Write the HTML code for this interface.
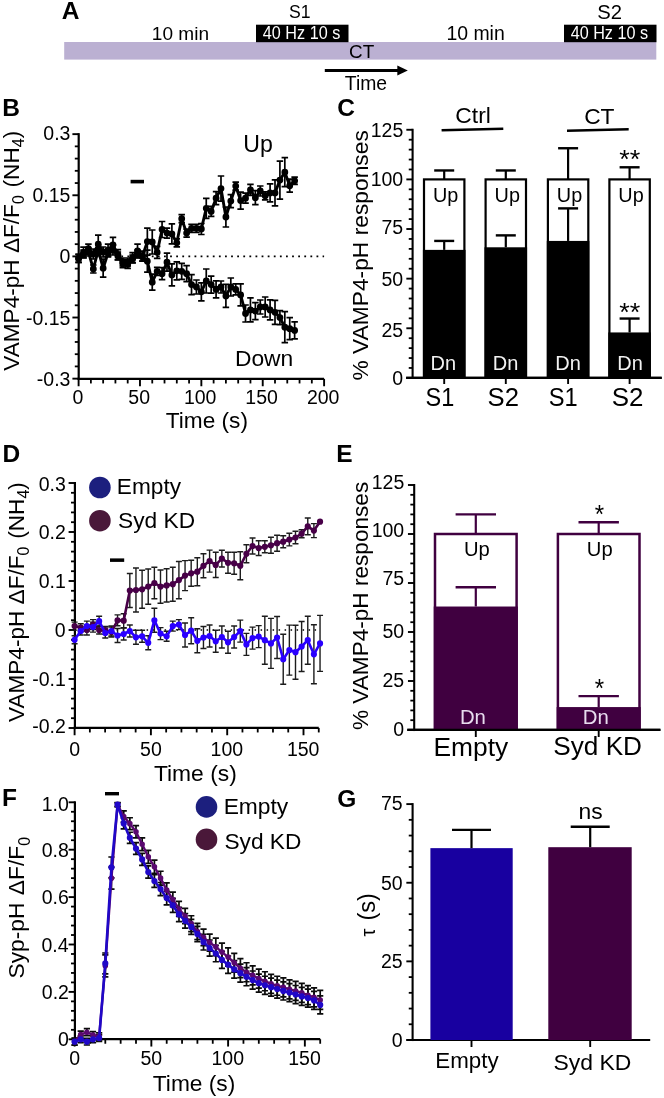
<!DOCTYPE html>
<html><head><meta charset="utf-8"><style>
html,body{margin:0;padding:0;background:#fff;}
svg{display:block;font-family:"Liberation Sans", sans-serif;will-change:transform;}
</style></head><body>
<svg width="664" height="1098" viewBox="0 0 664 1098">
<rect width="664" height="1098" fill="#fff"/>
<text x="61.69" y="19.4" font-size="24.5" font-weight="bold" fill="#000" >A</text>
<rect x="64.2" y="42" width="592.1" height="17.6" fill="#bbb0d2" />
<text x="151.85" y="40" font-size="19.06" fill="#000" >10 min</text>
<text x="446.42" y="40.3" font-size="19.44" fill="#000" >10 min</text>
<text x="289.09" y="18.4" font-size="17.64" fill="#000" >S1</text>
<text x="597.37" y="19" font-size="20.23" fill="#000" >S2</text>
<rect x="256" y="24.7" width="92.5" height="17.5" fill="#000" />
<text x="262.83" y="39.3" font-size="18.6" fill="#fff" textLength="77.46" lengthAdjust="spacingAndGlyphs">40 Hz 10 s</text>
<rect x="564" y="24.7" width="92.5" height="17.5" fill="#000" />
<text x="570.63" y="39.3" font-size="18.6" fill="#fff" textLength="77.46" lengthAdjust="spacingAndGlyphs">40 Hz 10 s</text>
<text x="349.04" y="58.3" font-size="18.9" fill="#000" >CT</text>
<line x1="324.8" y1="70.6" x2="399" y2="70.6" stroke="#000" stroke-width="3" />
<polygon points="397.3,65.6 407.8,70.6 397.3,75.6" fill="#000"/>
<text x="344.87" y="90.1" font-size="19.35" fill="#000" >Time</text>
<text x="2.36" y="116.4" font-size="24.5" font-weight="bold" fill="#000" >B</text>
<line x1="78.7" y1="133.15" x2="78.7" y2="379.75" stroke="#000" stroke-width="2.2" />
<line x1="72.4" y1="134.15" x2="78.7" y2="134.15" stroke="#000" stroke-width="1.9" />
<line x1="72.4" y1="195.27" x2="78.7" y2="195.27" stroke="#000" stroke-width="1.9" />
<line x1="72.4" y1="256.4" x2="78.7" y2="256.4" stroke="#000" stroke-width="1.9" />
<line x1="72.4" y1="317.52" x2="78.7" y2="317.52" stroke="#000" stroke-width="1.9" />
<line x1="72.4" y1="378.65" x2="78.7" y2="378.65" stroke="#000" stroke-width="1.9" />
<line x1="74.8" y1="146.37" x2="78.7" y2="146.37" stroke="#000" stroke-width="1.8" />
<line x1="74.8" y1="158.6" x2="78.7" y2="158.6" stroke="#000" stroke-width="1.8" />
<line x1="74.8" y1="170.82" x2="78.7" y2="170.82" stroke="#000" stroke-width="1.8" />
<line x1="74.8" y1="183.05" x2="78.7" y2="183.05" stroke="#000" stroke-width="1.8" />
<line x1="74.8" y1="207.5" x2="78.7" y2="207.5" stroke="#000" stroke-width="1.8" />
<line x1="74.8" y1="219.72" x2="78.7" y2="219.72" stroke="#000" stroke-width="1.8" />
<line x1="74.8" y1="231.95" x2="78.7" y2="231.95" stroke="#000" stroke-width="1.8" />
<line x1="74.8" y1="244.17" x2="78.7" y2="244.17" stroke="#000" stroke-width="1.8" />
<line x1="74.8" y1="268.62" x2="78.7" y2="268.62" stroke="#000" stroke-width="1.8" />
<line x1="74.8" y1="280.85" x2="78.7" y2="280.85" stroke="#000" stroke-width="1.8" />
<line x1="74.8" y1="293.07" x2="78.7" y2="293.07" stroke="#000" stroke-width="1.8" />
<line x1="74.8" y1="305.3" x2="78.7" y2="305.3" stroke="#000" stroke-width="1.8" />
<line x1="74.8" y1="329.75" x2="78.7" y2="329.75" stroke="#000" stroke-width="1.8" />
<line x1="74.8" y1="341.97" x2="78.7" y2="341.97" stroke="#000" stroke-width="1.8" />
<line x1="74.8" y1="354.2" x2="78.7" y2="354.2" stroke="#000" stroke-width="1.8" />
<line x1="74.8" y1="366.42" x2="78.7" y2="366.42" stroke="#000" stroke-width="1.8" />
<line x1="77.55" y1="378.9" x2="324.1" y2="378.9" stroke="#000" stroke-width="2.3" />
<line x1="78.6" y1="378.9" x2="78.6" y2="386.25" stroke="#000" stroke-width="1.9" />
<line x1="139.97" y1="378.9" x2="139.97" y2="386.25" stroke="#000" stroke-width="1.9" />
<line x1="201.35" y1="378.9" x2="201.35" y2="386.25" stroke="#000" stroke-width="1.9" />
<line x1="262.73" y1="378.9" x2="262.73" y2="386.25" stroke="#000" stroke-width="1.9" />
<line x1="324.1" y1="378.9" x2="324.1" y2="386.25" stroke="#000" stroke-width="1.9" />
<line x1="90.88" y1="378.9" x2="90.88" y2="383.45" stroke="#000" stroke-width="1.8" />
<line x1="103.15" y1="378.9" x2="103.15" y2="383.45" stroke="#000" stroke-width="1.8" />
<line x1="115.42" y1="378.9" x2="115.42" y2="383.45" stroke="#000" stroke-width="1.8" />
<line x1="127.7" y1="378.9" x2="127.7" y2="383.45" stroke="#000" stroke-width="1.8" />
<line x1="152.25" y1="378.9" x2="152.25" y2="383.45" stroke="#000" stroke-width="1.8" />
<line x1="164.52" y1="378.9" x2="164.52" y2="383.45" stroke="#000" stroke-width="1.8" />
<line x1="176.8" y1="378.9" x2="176.8" y2="383.45" stroke="#000" stroke-width="1.8" />
<line x1="189.07" y1="378.9" x2="189.07" y2="383.45" stroke="#000" stroke-width="1.8" />
<line x1="213.62" y1="378.9" x2="213.62" y2="383.45" stroke="#000" stroke-width="1.8" />
<line x1="225.9" y1="378.9" x2="225.9" y2="383.45" stroke="#000" stroke-width="1.8" />
<line x1="238.18" y1="378.9" x2="238.18" y2="383.45" stroke="#000" stroke-width="1.8" />
<line x1="250.45" y1="378.9" x2="250.45" y2="383.45" stroke="#000" stroke-width="1.8" />
<line x1="275" y1="378.9" x2="275" y2="383.45" stroke="#000" stroke-width="1.8" />
<line x1="287.27" y1="378.9" x2="287.27" y2="383.45" stroke="#000" stroke-width="1.8" />
<line x1="299.55" y1="378.9" x2="299.55" y2="383.45" stroke="#000" stroke-width="1.8" />
<line x1="311.82" y1="378.9" x2="311.82" y2="383.45" stroke="#000" stroke-width="1.8" />
<text x="43.35" y="139.65" font-size="19.5" fill="#000" >0.3</text>
<text x="32.47" y="202.27" font-size="19.5" fill="#000" >0.15</text>
<text x="59.52" y="263.4" font-size="19.5" fill="#000" >0</text>
<text x="25.98" y="324.52" font-size="19.5" fill="#000" >-0.15</text>
<text x="36.86" y="385.65" font-size="19.5" fill="#000" >-0.3</text>
<text x="72.38" y="403.6" font-size="19.5" fill="#000" >0</text>
<text x="128.32" y="403.6" font-size="19.5" fill="#000" >50</text>
<text x="183.93" y="403.6" font-size="19.5" fill="#000" >100</text>
<text x="245.3" y="403.6" font-size="19.5" fill="#000" >150</text>
<text x="306.93" y="403.6" font-size="19.5" fill="#000" >200</text>
<text x="165.8" y="427.9" font-size="22.65" fill="#000" >Time (s)</text>
<text transform="translate(19,370.7) rotate(-90)" font-size="22.6" fill="#000">VAMP4-pH ΔF/F<tspan font-size="16" dy="5.3">0</tspan><tspan dy="-5.3" dx="1.5"> (NH</tspan><tspan font-size="16" dy="5.3">4</tspan><tspan dy="-5.3">)</tspan></text>
<line x1="78.6" y1="256.4" x2="324.1" y2="256.4" stroke="#000" stroke-width="1.8" stroke-dasharray="1.8,4.3"/>
<rect x="130.6" y="179.8" width="13.4" height="3.6" fill="#000" />
<path d="M78.6 254.4V262.4M75.35 254.4h6.5M75.35 262.4h6.5M83.51 247.1V257.7M80.26 247.1h6.5M80.26 257.7h6.5M88.42 244.1V253.1M85.17 244.1h6.5M85.17 253.1h6.5M93.33 249V259M90.08 249h6.5M90.08 259h6.5M98.24 235.1V253.1M94.99 235.1h6.5M94.99 253.1h6.5M103.15 247V257M99.9 247h6.5M99.9 257h6.5M108.06 244.1V256.1M104.81 244.1h6.5M104.81 256.1h6.5M112.97 237.3V252.3M109.72 237.3h6.5M109.72 252.3h6.5M117.88 249.6V259.6M114.63 249.6h6.5M114.63 259.6h6.5M122.79 258V266M119.54 258h6.5M119.54 266h6.5M127.7 258V266M124.45 258h6.5M124.45 266h6.5M132.61 252.7V262.7M129.36 252.7h6.5M129.36 262.7h6.5M137.52 244.1V257.7M134.27 244.1h6.5M134.27 257.7h6.5M142.43 251.1V261.1M139.18 251.1h6.5M139.18 261.1h6.5M147.34 228.1V255.1M144.09 228.1h6.5M144.09 255.1h6.5M152.25 230V254M149 230h6.5M149 254h6.5M157.16 246.4V258.4M153.91 246.4h6.5M153.91 258.4h6.5M162.07 221.5V237.5M158.82 221.5h6.5M158.82 237.5h6.5M166.98 228.1V238.1M163.73 228.1h6.5M163.73 238.1h6.5M171.89 223.9V243.9M168.64 223.9h6.5M168.64 243.9h6.5M176.8 238.8V246.8M173.55 238.8h6.5M173.55 246.8h6.5M181.71 214.7V222.7M178.46 214.7h6.5M178.46 222.7h6.5M186.62 229.1V237.1M183.37 229.1h6.5M183.37 237.1h6.5M191.53 224.3V232.3M188.28 224.3h6.5M188.28 232.3h6.5M196.44 224.3V232.3M193.19 224.3h6.5M193.19 232.3h6.5M201.35 223.5V234.5M198.1 223.5h6.5M198.1 234.5h6.5M206.26 198.3V218.3M203.01 198.3h6.5M203.01 218.3h6.5M211.17 206.4V216.4M207.92 206.4h6.5M207.92 216.4h6.5M216.08 191.7V204.7M212.83 191.7h6.5M212.83 204.7h6.5M220.99 176V201.2M217.74 176h6.5M217.74 201.2h6.5M225.9 207V227M222.65 207h6.5M222.65 227h6.5M230.81 194.6V207.6M227.56 194.6h6.5M227.56 207.6h6.5M235.72 182.1V190.1M232.47 182.1h6.5M232.47 190.1h6.5M240.63 192.1V209.1M237.38 192.1h6.5M237.38 209.1h6.5M245.54 193.2V203.2M242.29 193.2h6.5M242.29 203.2h6.5M250.45 184.3V195.3M247.2 184.3h6.5M247.2 195.3h6.5M255.36 190.7V204.7M252.11 190.7h6.5M252.11 204.7h6.5M260.27 186V196M257.02 186h6.5M257.02 196h6.5M265.18 191.8V199.8M261.93 191.8h6.5M261.93 199.8h6.5M270.09 183.9V201.9M266.84 183.9h6.5M266.84 201.9h6.5M275 179.9V205.9M271.75 179.9h6.5M271.75 205.9h6.5M279.91 161.1V199.1M276.66 161.1h6.5M276.66 199.1h6.5M284.82 157.7V186.7M281.57 157.7h6.5M281.57 186.7h6.5M289.73 179.2V192.2M286.48 179.2h6.5M286.48 192.2h6.5M294.64 177.2V184.4M291.39 177.2h6.5M291.39 184.4h6.5" stroke="#000" stroke-width="1.7" fill="none"/>
<polyline points="78.6,258.4 83.51,252.4 88.42,248.6 93.33,254 98.24,244.1 103.15,252 108.06,250.1 112.97,244.8 117.88,254.6 122.79,262 127.7,262 132.61,257.7 137.52,250.9 142.43,256.1 147.34,241.6 152.25,242 157.16,252.4 162.07,229.5 166.98,233.1 171.89,233.9 176.8,242.8 181.71,218.7 186.62,233.1 191.53,228.3 196.44,228.3 201.35,229 206.26,208.3 211.17,211.4 216.08,198.2 220.99,188.6 225.9,217 230.81,201.1 235.72,186.1 240.63,200.6 245.54,198.2 250.45,189.8 255.36,197.7 260.27,191 265.18,195.8 270.09,192.9 275,192.9 279.91,180.1 284.82,172.2 289.73,185.7 294.64,180.8" fill="none" stroke="#000" stroke-width="2.9" stroke-linejoin="round"/>
<path d="M78.6 258.4h0M83.51 252.4h0M88.42 248.6h0M93.33 254h0M98.24 244.1h0M103.15 252h0M108.06 250.1h0M112.97 244.8h0M117.88 254.6h0M122.79 262h0M127.7 262h0M132.61 257.7h0M137.52 250.9h0M142.43 256.1h0M147.34 241.6h0M152.25 242h0M157.16 252.4h0M162.07 229.5h0M166.98 233.1h0M171.89 233.9h0M176.8 242.8h0M181.71 218.7h0M186.62 233.1h0M191.53 228.3h0M196.44 228.3h0M201.35 229h0M206.26 208.3h0M211.17 211.4h0M216.08 198.2h0M220.99 188.6h0M225.9 217h0M230.81 201.1h0M235.72 186.1h0M240.63 200.6h0M245.54 198.2h0M250.45 189.8h0M255.36 197.7h0M260.27 191h0M265.18 195.8h0M270.09 192.9h0M275 192.9h0M279.91 180.1h0M284.82 172.2h0M289.73 185.7h0M294.64 180.8h0" stroke="#000" stroke-width="6.8" stroke-linecap="round" fill="none"/>
<path d="M78.6 254.4V262.4M75.35 254.4h6.5M75.35 262.4h6.5M83.51 250V258M80.26 250h6.5M80.26 258h6.5M88.42 248V256M85.17 248h6.5M85.17 256h6.5M93.33 265V273M90.08 265h6.5M90.08 273h6.5M98.24 245V255M94.99 245h6.5M94.99 255h6.5M103.15 259.2V277.2M99.9 259.2h6.5M99.9 277.2h6.5M108.06 249V257M104.81 249h6.5M104.81 257h6.5M112.97 245V255M109.72 245h6.5M109.72 255h6.5M117.88 252V260M114.63 252h6.5M114.63 260h6.5M122.79 259.7V267.7M119.54 259.7h6.5M119.54 267.7h6.5M127.7 260.4V268.4M124.45 260.4h6.5M124.45 268.4h6.5M132.61 255V263M129.36 255h6.5M129.36 263h6.5M137.52 250V258M134.27 250h6.5M134.27 258h6.5M142.43 253V261M139.18 253h6.5M139.18 261h6.5M147.34 250.2V272.2M144.09 250.2h6.5M144.09 272.2h6.5M152.25 274.2V290.2M149 274.2h6.5M149 290.2h6.5M157.16 267.3V275.3M153.91 267.3h6.5M153.91 275.3h6.5M162.07 267.7V279.7M158.82 267.7h6.5M158.82 279.7h6.5M166.98 253.2V271.2M163.73 253.2h6.5M163.73 271.2h6.5M171.89 263.9V285.9M168.64 263.9h6.5M168.64 285.9h6.5M176.8 261.8V279.8M173.55 261.8h6.5M173.55 279.8h6.5M181.71 263.3V279.3M178.46 263.3h6.5M178.46 279.3h6.5M186.62 265.7V281.7M183.37 265.7h6.5M183.37 281.7h6.5M191.53 274.6V294.6M188.28 274.6h6.5M188.28 294.6h6.5M196.44 280V294M193.19 280h6.5M193.19 294h6.5M201.35 282.8V300.8M198.1 282.8h6.5M198.1 300.8h6.5M206.26 269V293M203.01 269h6.5M203.01 293h6.5M211.17 276.1V293.1M207.92 276.1h6.5M207.92 293.1h6.5M216.08 280.9V297.9M212.83 280.9h6.5M212.83 297.9h6.5M220.99 281V293M217.74 281h6.5M217.74 293h6.5M225.9 284.4V307.4M222.65 284.4h6.5M222.65 307.4h6.5M230.81 278V296M227.56 278h6.5M227.56 296h6.5M235.72 283.9V294.9M232.47 283.9h6.5M232.47 294.9h6.5M240.63 283.9V305.9M237.38 283.9h6.5M237.38 305.9h6.5M245.54 305V322M242.29 305h6.5M242.29 322h6.5M250.45 297.9V321.9M247.2 297.9h6.5M247.2 321.9h6.5M255.36 302.6V319.6M252.11 302.6h6.5M252.11 319.6h6.5M260.27 300V314M257.02 300h6.5M257.02 314h6.5M265.18 297V317M261.93 297h6.5M261.93 317h6.5M270.09 299.9V319.9M266.84 299.9h6.5M266.84 319.9h6.5M275 300.3V324.3M271.75 300.3h6.5M271.75 324.3h6.5M279.91 310.6V324.6M276.66 310.6h6.5M276.66 324.6h6.5M284.82 311.7V342.7M281.57 311.7h6.5M281.57 342.7h6.5M289.73 317.7V339.7M286.48 317.7h6.5M286.48 339.7h6.5M294.64 321.9V338.9M291.39 321.9h6.5M291.39 338.9h6.5" stroke="#000" stroke-width="1.7" fill="none"/>
<polyline points="78.6,258.4 83.51,254 88.42,252 93.33,269 98.24,250 103.15,268.2 108.06,253 112.97,250 117.88,256 122.79,263.7 127.7,264.4 132.61,259 137.52,254 142.43,257 147.34,261.2 152.25,282.2 157.16,271.3 162.07,273.7 166.98,262.2 171.89,274.9 176.8,270.8 181.71,271.3 186.62,273.7 191.53,284.6 196.44,287 201.35,291.8 206.26,281 211.17,284.6 216.08,289.4 220.99,287 225.9,295.9 230.81,287 235.72,289.4 240.63,294.9 245.54,313.5 250.45,309.9 255.36,311.1 260.27,307 265.18,307 270.09,309.9 275,312.3 279.91,317.6 284.82,327.2 289.73,328.7 294.64,330.4" fill="none" stroke="#000" stroke-width="2.9" stroke-linejoin="round"/>
<path d="M78.6 258.4h0M83.51 254h0M88.42 252h0M93.33 269h0M98.24 250h0M103.15 268.2h0M108.06 253h0M112.97 250h0M117.88 256h0M122.79 263.7h0M127.7 264.4h0M132.61 259h0M137.52 254h0M142.43 257h0M147.34 261.2h0M152.25 282.2h0M157.16 271.3h0M162.07 273.7h0M166.98 262.2h0M171.89 274.9h0M176.8 270.8h0M181.71 271.3h0M186.62 273.7h0M191.53 284.6h0M196.44 287h0M201.35 291.8h0M206.26 281h0M211.17 284.6h0M216.08 289.4h0M220.99 287h0M225.9 295.9h0M230.81 287h0M235.72 289.4h0M240.63 294.9h0M245.54 313.5h0M250.45 309.9h0M255.36 311.1h0M260.27 307h0M265.18 307h0M270.09 309.9h0M275 312.3h0M279.91 317.6h0M284.82 327.2h0M289.73 328.7h0M294.64 330.4h0" stroke="#000" stroke-width="6.8" stroke-linecap="round" fill="none"/>
<text x="243.22" y="151.9" font-size="23.12" fill="#000" >Up</text>
<text x="234.93" y="366.3" font-size="22.82" fill="#000" >Down</text>
<text x="337.2" y="116.4" font-size="24.5" font-weight="bold" fill="#000" >C</text>
<line x1="412.6" y1="128.77" x2="412.6" y2="378.95" stroke="#000" stroke-width="2.1" />
<line x1="406.35" y1="328.27" x2="412.6" y2="328.27" stroke="#000" stroke-width="1.9" />
<line x1="406.35" y1="278.65" x2="412.6" y2="278.65" stroke="#000" stroke-width="1.9" />
<line x1="406.35" y1="229.02" x2="412.6" y2="229.02" stroke="#000" stroke-width="1.9" />
<line x1="406.35" y1="179.4" x2="412.6" y2="179.4" stroke="#000" stroke-width="1.9" />
<line x1="406.35" y1="129.77" x2="412.6" y2="129.77" stroke="#000" stroke-width="1.9" />
<line x1="408.75" y1="367.97" x2="412.6" y2="367.97" stroke="#000" stroke-width="1.8" />
<line x1="408.75" y1="358.05" x2="412.6" y2="358.05" stroke="#000" stroke-width="1.8" />
<line x1="408.75" y1="348.12" x2="412.6" y2="348.12" stroke="#000" stroke-width="1.8" />
<line x1="408.75" y1="338.2" x2="412.6" y2="338.2" stroke="#000" stroke-width="1.8" />
<line x1="408.75" y1="318.35" x2="412.6" y2="318.35" stroke="#000" stroke-width="1.8" />
<line x1="408.75" y1="308.42" x2="412.6" y2="308.42" stroke="#000" stroke-width="1.8" />
<line x1="408.75" y1="298.5" x2="412.6" y2="298.5" stroke="#000" stroke-width="1.8" />
<line x1="408.75" y1="288.57" x2="412.6" y2="288.57" stroke="#000" stroke-width="1.8" />
<line x1="408.75" y1="268.72" x2="412.6" y2="268.72" stroke="#000" stroke-width="1.8" />
<line x1="408.75" y1="258.8" x2="412.6" y2="258.8" stroke="#000" stroke-width="1.8" />
<line x1="408.75" y1="248.87" x2="412.6" y2="248.87" stroke="#000" stroke-width="1.8" />
<line x1="408.75" y1="238.95" x2="412.6" y2="238.95" stroke="#000" stroke-width="1.8" />
<line x1="408.75" y1="219.1" x2="412.6" y2="219.1" stroke="#000" stroke-width="1.8" />
<line x1="408.75" y1="209.17" x2="412.6" y2="209.17" stroke="#000" stroke-width="1.8" />
<line x1="408.75" y1="199.25" x2="412.6" y2="199.25" stroke="#000" stroke-width="1.8" />
<line x1="408.75" y1="189.32" x2="412.6" y2="189.32" stroke="#000" stroke-width="1.8" />
<line x1="408.75" y1="169.47" x2="412.6" y2="169.47" stroke="#000" stroke-width="1.8" />
<line x1="408.75" y1="159.55" x2="412.6" y2="159.55" stroke="#000" stroke-width="1.8" />
<line x1="408.75" y1="149.62" x2="412.6" y2="149.62" stroke="#000" stroke-width="1.8" />
<line x1="408.75" y1="139.7" x2="412.6" y2="139.7" stroke="#000" stroke-width="1.8" />
<line x1="406.15" y1="377.9" x2="661.7" y2="377.9" stroke="#000" stroke-width="2.1" />
<text x="392.32" y="384.9" font-size="19.5" fill="#000" >0</text>
<text x="381.53" y="337.07" font-size="19.5" fill="#000" >25</text>
<text x="381.48" y="286.25" font-size="19.5" fill="#000" >50</text>
<text x="381.53" y="233.82" font-size="19.5" fill="#000" >75</text>
<text x="370.63" y="185.7" font-size="19.5" fill="#000" >100</text>
<text x="370.69" y="137.37" font-size="19.5" fill="#000" >125</text>
<text transform="translate(367.6,380.6) rotate(-90)" font-size="22.8" fill="#000">% VAMP4-pH responses</text>
<rect x="424" y="179.4" width="40.4" height="197.4" fill="#fff" stroke="#000" stroke-width="2.2"/>
<rect x="422.9" y="249.87" width="42.6" height="128.03" fill="#000" />
<line x1="444.2" y1="170.47" x2="444.2" y2="179.4" stroke="#000" stroke-width="2.2" />
<line x1="434.2" y1="170.47" x2="454.2" y2="170.47" stroke="#000" stroke-width="2.4" />
<line x1="444.2" y1="240.93" x2="444.2" y2="249.87" stroke="#000" stroke-width="2.2" />
<line x1="434.2" y1="240.93" x2="454.2" y2="240.93" stroke="#000" stroke-width="2.4" />
<text x="432.97" y="201.8" font-size="19.84" fill="#000" >Up</text>
<text x="430.56" y="369.7" font-size="19.98" fill="#f2f2f2" >Dn</text>
<line x1="444.2" y1="377.9" x2="444.2" y2="384" stroke="#000" stroke-width="1.9" />
<text x="425.52" y="406" font-size="25" fill="#000" textLength="28.74" lengthAdjust="spacingAndGlyphs">S1</text>
<rect x="485.6" y="179.4" width="40.4" height="197.4" fill="#fff" stroke="#000" stroke-width="2.2"/>
<rect x="484.5" y="247.29" width="42.6" height="130.61" fill="#000" />
<line x1="505.8" y1="170.47" x2="505.8" y2="179.4" stroke="#000" stroke-width="2.2" />
<line x1="495.8" y1="170.47" x2="515.8" y2="170.47" stroke="#000" stroke-width="2.4" />
<line x1="505.8" y1="235.38" x2="505.8" y2="247.29" stroke="#000" stroke-width="2.2" />
<line x1="495.8" y1="235.38" x2="515.8" y2="235.38" stroke="#000" stroke-width="2.4" />
<text x="494.57" y="201.8" font-size="19.84" fill="#000" >Up</text>
<text x="492.76" y="369.7" font-size="19.98" fill="#f2f2f2" >Dn</text>
<line x1="505.8" y1="377.9" x2="505.8" y2="384" stroke="#000" stroke-width="1.9" />
<text x="487.62" y="406" font-size="25" fill="#000" textLength="31.37" lengthAdjust="spacingAndGlyphs">S2</text>
<rect x="547.9" y="179.4" width="40.4" height="197.4" fill="#fff" stroke="#000" stroke-width="2.2"/>
<rect x="546.8" y="240.93" width="42.6" height="136.97" fill="#000" />
<line x1="568.1" y1="148.24" x2="568.1" y2="179.4" stroke="#000" stroke-width="2.2" />
<line x1="558.1" y1="148.24" x2="578.1" y2="148.24" stroke="#000" stroke-width="2.4" />
<line x1="568.1" y1="208.38" x2="568.1" y2="240.93" stroke="#000" stroke-width="2.2" />
<line x1="558.1" y1="208.38" x2="578.1" y2="208.38" stroke="#000" stroke-width="2.4" />
<text x="556.87" y="201.8" font-size="19.84" fill="#000" >Up</text>
<text x="555.26" y="369.7" font-size="19.98" fill="#f2f2f2" >Dn</text>
<line x1="568.1" y1="377.9" x2="568.1" y2="384" stroke="#000" stroke-width="1.9" />
<text x="548.81" y="406" font-size="25" fill="#000" textLength="28.95" lengthAdjust="spacingAndGlyphs">S1</text>
<rect x="609.4" y="179.4" width="40.4" height="197.4" fill="#fff" stroke="#000" stroke-width="2.2"/>
<rect x="608.3" y="332.44" width="42.6" height="45.46" fill="#000" />
<line x1="629.6" y1="167.29" x2="629.6" y2="179.4" stroke="#000" stroke-width="2.2" />
<line x1="619.6" y1="167.29" x2="639.6" y2="167.29" stroke="#000" stroke-width="2.4" />
<line x1="629.6" y1="318.55" x2="629.6" y2="332.44" stroke="#000" stroke-width="2.2" />
<line x1="619.6" y1="318.55" x2="639.6" y2="318.55" stroke="#000" stroke-width="2.4" />
<text x="618.37" y="201.8" font-size="19.84" fill="#000" >Up</text>
<text x="617.26" y="369.7" font-size="19.98" fill="#f2f2f2" >Dn</text>
<line x1="629.6" y1="377.9" x2="629.6" y2="384" stroke="#000" stroke-width="1.9" />
<text x="611.81" y="406" font-size="25" fill="#000" textLength="31.69" lengthAdjust="spacingAndGlyphs">S2</text>
<line x1="406.15" y1="377.9" x2="661.7" y2="377.9" stroke="#000" stroke-width="2.1" />
<text x="619.17" y="167.8" font-size="26" fill="#000" textLength="21.07" lengthAdjust="spacingAndGlyphs">**</text>
<text x="619.17" y="321.4" font-size="26" fill="#000" textLength="21.07" lengthAdjust="spacingAndGlyphs">**</text>
<text x="455.34" y="123.4" font-size="22.83" fill="#000" >Ctrl</text>
<text x="584.14" y="123.5" font-size="22.8" fill="#000" >CT</text>
<line x1="441.6" y1="130.3" x2="503.3" y2="128.8" stroke="#000" stroke-width="2.4" />
<line x1="567" y1="130.7" x2="628.7" y2="129.3" stroke="#000" stroke-width="2.4" />
<text x="2.56" y="462.4" font-size="24.5" font-weight="bold" fill="#000" >D</text>
<line x1="74.9" y1="482" x2="74.9" y2="729.1" stroke="#000" stroke-width="2.2" />
<line x1="68.6" y1="483" x2="74.9" y2="483" stroke="#000" stroke-width="1.9" />
<line x1="68.6" y1="532" x2="74.9" y2="532" stroke="#000" stroke-width="1.9" />
<line x1="68.6" y1="581" x2="74.9" y2="581" stroke="#000" stroke-width="1.9" />
<line x1="68.6" y1="630" x2="74.9" y2="630" stroke="#000" stroke-width="1.9" />
<line x1="68.6" y1="679" x2="74.9" y2="679" stroke="#000" stroke-width="1.9" />
<line x1="68.6" y1="728" x2="74.9" y2="728" stroke="#000" stroke-width="1.9" />
<line x1="71" y1="492.8" x2="74.9" y2="492.8" stroke="#000" stroke-width="1.8" />
<line x1="71" y1="502.6" x2="74.9" y2="502.6" stroke="#000" stroke-width="1.8" />
<line x1="71" y1="512.4" x2="74.9" y2="512.4" stroke="#000" stroke-width="1.8" />
<line x1="71" y1="522.2" x2="74.9" y2="522.2" stroke="#000" stroke-width="1.8" />
<line x1="71" y1="541.8" x2="74.9" y2="541.8" stroke="#000" stroke-width="1.8" />
<line x1="71" y1="551.6" x2="74.9" y2="551.6" stroke="#000" stroke-width="1.8" />
<line x1="71" y1="561.4" x2="74.9" y2="561.4" stroke="#000" stroke-width="1.8" />
<line x1="71" y1="571.2" x2="74.9" y2="571.2" stroke="#000" stroke-width="1.8" />
<line x1="71" y1="590.8" x2="74.9" y2="590.8" stroke="#000" stroke-width="1.8" />
<line x1="71" y1="600.6" x2="74.9" y2="600.6" stroke="#000" stroke-width="1.8" />
<line x1="71" y1="610.4" x2="74.9" y2="610.4" stroke="#000" stroke-width="1.8" />
<line x1="71" y1="620.2" x2="74.9" y2="620.2" stroke="#000" stroke-width="1.8" />
<line x1="71" y1="639.8" x2="74.9" y2="639.8" stroke="#000" stroke-width="1.8" />
<line x1="71" y1="649.6" x2="74.9" y2="649.6" stroke="#000" stroke-width="1.8" />
<line x1="71" y1="659.4" x2="74.9" y2="659.4" stroke="#000" stroke-width="1.8" />
<line x1="71" y1="669.2" x2="74.9" y2="669.2" stroke="#000" stroke-width="1.8" />
<line x1="71" y1="688.8" x2="74.9" y2="688.8" stroke="#000" stroke-width="1.8" />
<line x1="71" y1="698.6" x2="74.9" y2="698.6" stroke="#000" stroke-width="1.8" />
<line x1="71" y1="708.4" x2="74.9" y2="708.4" stroke="#000" stroke-width="1.8" />
<line x1="71" y1="718.2" x2="74.9" y2="718.2" stroke="#000" stroke-width="1.8" />
<line x1="73.75" y1="727.9" x2="318.76" y2="727.9" stroke="#000" stroke-width="2.3" />
<line x1="74.6" y1="727.9" x2="74.6" y2="735.25" stroke="#000" stroke-width="1.9" />
<line x1="150.9" y1="727.9" x2="150.9" y2="735.25" stroke="#000" stroke-width="1.9" />
<line x1="227.2" y1="727.9" x2="227.2" y2="735.25" stroke="#000" stroke-width="1.9" />
<line x1="303.5" y1="727.9" x2="303.5" y2="735.25" stroke="#000" stroke-width="1.9" />
<line x1="89.86" y1="727.9" x2="89.86" y2="732.45" stroke="#000" stroke-width="1.8" />
<line x1="105.12" y1="727.9" x2="105.12" y2="732.45" stroke="#000" stroke-width="1.8" />
<line x1="120.38" y1="727.9" x2="120.38" y2="732.45" stroke="#000" stroke-width="1.8" />
<line x1="135.64" y1="727.9" x2="135.64" y2="732.45" stroke="#000" stroke-width="1.8" />
<line x1="166.16" y1="727.9" x2="166.16" y2="732.45" stroke="#000" stroke-width="1.8" />
<line x1="181.42" y1="727.9" x2="181.42" y2="732.45" stroke="#000" stroke-width="1.8" />
<line x1="196.68" y1="727.9" x2="196.68" y2="732.45" stroke="#000" stroke-width="1.8" />
<line x1="211.94" y1="727.9" x2="211.94" y2="732.45" stroke="#000" stroke-width="1.8" />
<line x1="242.46" y1="727.9" x2="242.46" y2="732.45" stroke="#000" stroke-width="1.8" />
<line x1="257.72" y1="727.9" x2="257.72" y2="732.45" stroke="#000" stroke-width="1.8" />
<line x1="272.98" y1="727.9" x2="272.98" y2="732.45" stroke="#000" stroke-width="1.8" />
<line x1="288.24" y1="727.9" x2="288.24" y2="732.45" stroke="#000" stroke-width="1.8" />
<line x1="318.76" y1="727.9" x2="318.76" y2="732.45" stroke="#000" stroke-width="1.8" />
<text x="38.65" y="491.4" font-size="19.5" fill="#000" >0.3</text>
<text x="38.77" y="539" font-size="19.5" fill="#000" >0.2</text>
<text x="38.75" y="588" font-size="19.5" fill="#000" >0.1</text>
<text x="54.82" y="637" font-size="19.5" fill="#000" >0</text>
<text x="32.26" y="686" font-size="19.5" fill="#000" >-0.1</text>
<text x="32.28" y="733.4" font-size="19.5" fill="#000" >-0.2</text>
<text x="69.18" y="755.5" font-size="19.5" fill="#000" >0</text>
<text x="140.05" y="755.5" font-size="19.5" fill="#000" >50</text>
<text x="210.58" y="755.5" font-size="19.5" fill="#000" >100</text>
<text x="286.88" y="755.5" font-size="19.5" fill="#000" >150</text>
<text x="153.9" y="780.6" font-size="22.85" fill="#000" >Time (s)</text>
<text transform="translate(23.9,722) rotate(-90)" font-size="22.6" fill="#000">VAMP4-pH ΔF/F<tspan font-size="16" dy="5.3">0</tspan><tspan dy="-5.3" dx="1.5"> (NH</tspan><tspan font-size="16" dy="5.3">4</tspan><tspan dy="-5.3">)</tspan></text>
<line x1="74.6" y1="630" x2="318.76" y2="630" stroke="#000" stroke-width="1.5" stroke-dasharray="1.5,4.5"/>
<rect x="110" y="558.4" width="14.2" height="3.5" fill="#000" />
<path d="M74.6 622.1V630.1M71.6 622.1h6M71.6 630.1h6M80.74 623.7V631.7M77.74 623.7h6M77.74 631.7h6M86.87 625V635M83.87 625h6M83.87 635h6M93.01 619.6V629.6M90.01 619.6h6M90.01 629.6h6M99.14 626V634M96.14 626h6M96.14 634h6M105.28 626.4V634.4M102.28 626.4h6M102.28 634.4h6M111.42 627V637M108.42 627h6M108.42 637h6M117.55 614.9V625.7M114.55 614.9h6M114.55 625.7h6M123.69 613.7V627.7M120.69 613.7h6M120.69 627.7h6M129.82 573.5V607.5M126.82 573.5h6M126.82 607.5h6M135.96 568V612M132.96 568h6M132.96 612h6M142.1 570.3V608.3M139.1 570.3h6M139.1 608.3h6M148.23 569V604.2M145.23 569h6M145.23 604.2h6M154.37 567.3V598.7M151.37 567.3h6M151.37 598.7h6M160.5 570V603.2M157.5 570h6M157.5 603.2h6M166.64 568.8V602M163.64 568.8h6M163.64 602h6M172.78 567.2V601.2M169.78 567.2h6M169.78 601.2h6M178.91 561.5V598.7M175.91 561.5h6M175.91 598.7h6M185.05 560.6V590.6M182.05 560.6h6M182.05 590.6h6M191.18 560.3V586.3M188.18 560.3h6M188.18 586.3h6M197.32 557.7V585.7M194.32 557.7h6M194.32 585.7h6M203.46 553.8V577.8M200.46 553.8h6M200.46 577.8h6M209.59 550.1V572.1M206.59 550.1h6M206.59 572.1h6M215.73 552.3V577.5M212.73 552.3h6M212.73 577.5h6M221.86 550.2V567M218.86 550.2h6M218.86 567h6M228 552.3V573.3M225 552.3h6M225 573.3h6M234.14 552.3V574.3M231.14 552.3h6M231.14 574.3h6M240.27 551.8V579.8M237.27 551.8h6M237.27 579.8h6M246.41 544.8V562.8M243.41 544.8h6M243.41 562.8h6M252.54 538V554M249.54 538h6M249.54 554h6M258.68 540.7V555.5M255.68 540.7h6M255.68 555.5h6M264.82 540.8V552.8M261.82 540.8h6M261.82 552.8h6M270.95 537.3V553.3M267.95 537.3h6M267.95 553.3h6M277.09 535.2V551.2M274.09 535.2h6M274.09 551.2h6M283.22 535.7V547.7M280.22 535.7h6M280.22 547.7h6M289.36 533.3V545.9M286.36 533.3h6M286.36 545.9h6M295.5 531.2V543.8M292.5 531.2h6M292.5 543.8h6M301.63 529.7V537.7M298.63 529.7h6M298.63 537.7h6M307.77 518V534.8M304.77 518h6M304.77 534.8h6M313.9 523.6V537.6M310.9 523.6h6M310.9 537.6h6" stroke="#1c1c1c" stroke-width="1.4" fill="none"/>
<path d="M74.6 635.8V643.8M71.6 635.8h6M71.6 643.8h6M80.74 627V635M77.74 627h6M77.74 635h6M86.87 621.1V631.1M83.87 621.1h6M83.87 631.1h6M93.01 622.1V632.1M90.01 622.1h6M90.01 632.1h6M99.14 616.2V626.2M96.14 616.2h6M96.14 626.2h6M105.28 628V638M102.28 628h6M102.28 638h6M111.42 626V636M108.42 626h6M108.42 636h6M117.55 628.5V642.5M114.55 628.5h6M114.55 642.5h6M123.69 628V640M120.69 628h6M120.69 640h6M129.82 625V637M126.82 625h6M126.82 637h6M135.96 630.3V644.3M132.96 630.3h6M132.96 644.3h6M142.1 630.3V642.3M139.1 630.3h6M139.1 642.3h6M148.23 635.8V649.8M145.23 635.8h6M145.23 649.8h6M154.37 608.3V632.3M151.37 608.3h6M151.37 632.3h6M160.5 627.6V639.6M157.5 627.6h6M157.5 639.6h6M166.64 631.3V641.3M163.64 631.3h6M163.64 641.3h6M172.78 621.1V631.1M169.78 621.1h6M169.78 631.1h6M178.91 619.6V629.6M175.91 619.6h6M175.91 629.6h6M185.05 623V647M182.05 623h6M182.05 647h6M191.18 617.7V643.7M188.18 617.7h6M188.18 643.7h6M197.32 628.8V652.8M194.32 628.8h6M194.32 652.8h6M203.46 626.5V648.5M200.46 626.5h6M200.46 648.5h6M209.59 625V647M206.59 625h6M206.59 647h6M215.73 630.3V652.3M212.73 630.3h6M212.73 652.3h6M221.86 626V648M218.86 626h6M218.86 648h6M228 631.3V653.3M225 631.3h6M225 653.3h6M234.14 626V648M231.14 626h6M231.14 648h6M240.27 620.1V642.1M237.27 620.1h6M237.27 642.1h6M246.41 633.4V655.4M243.41 633.4h6M243.41 655.4h6M252.54 627.1V649.1M249.54 627.1h6M249.54 649.1h6M258.68 625.6V647.6M255.68 625.6h6M255.68 647.6h6M264.82 616.2V664.2M261.82 616.2h6M261.82 664.2h6M270.95 618.4V668.4M267.95 618.4h6M267.95 668.4h6M277.09 616.5V658.5M274.09 616.5h6M274.09 658.5h6M283.22 634.2V684.2M280.22 634.2h6M280.22 684.2h6M289.36 625.1V675.1M286.36 625.1h6M286.36 675.1h6M295.5 625.2V679.2M292.5 625.2h6M292.5 679.2h6M301.63 621.5V671.5M298.63 621.5h6M298.63 671.5h6M307.77 616.2V664.2M304.77 616.2h6M304.77 664.2h6M313.9 624.8V683.8M310.9 624.8h6M310.9 683.8h6M320.04 615.4V671.4M317.04 615.4h6M317.04 671.4h6" stroke="#1c1c1c" stroke-width="1.4" fill="none"/>
<polyline points="74.6,626.1 80.74,627.7 86.87,630 93.01,624.6 99.14,630 105.28,630.4 111.42,632 117.55,620.3 123.69,620.7 129.82,590.5 135.96,590 142.1,589.3 148.23,586.6 154.37,583 160.5,586.6 166.64,585.4 172.78,584.2 178.91,580.1 185.05,575.6 191.18,573.3 197.32,571.7 203.46,565.8 209.59,561.1 215.73,564.9 221.86,558.6 228,562.8 234.14,563.3 240.27,565.8 246.41,553.8 252.54,546 258.68,548.1 264.82,546.8 270.95,545.3 277.09,543.2 283.22,541.7 289.36,539.6 295.5,537.5 301.63,533.7 307.77,526.4 313.9,530.6 320.04,521.7" fill="none" stroke="#480048" stroke-width="2.6" stroke-linejoin="round"/>
<path d="M74.6 626.1h0M80.74 627.7h0M86.87 630h0M93.01 624.6h0M99.14 630h0M105.28 630.4h0M111.42 632h0M117.55 620.3h0M123.69 620.7h0M129.82 590.5h0M135.96 590h0M142.1 589.3h0M148.23 586.6h0M154.37 583h0M160.5 586.6h0M166.64 585.4h0M172.78 584.2h0M178.91 580.1h0M185.05 575.6h0M191.18 573.3h0M197.32 571.7h0M203.46 565.8h0M209.59 561.1h0M215.73 564.9h0M221.86 558.6h0M228 562.8h0M234.14 563.3h0M240.27 565.8h0M246.41 553.8h0M252.54 546h0M258.68 548.1h0M264.82 546.8h0M270.95 545.3h0M277.09 543.2h0M283.22 541.7h0M289.36 539.6h0M295.5 537.5h0M301.63 533.7h0M307.77 526.4h0M313.9 530.6h0M320.04 521.7h0" stroke="#480048" stroke-width="6.2" stroke-linecap="round" fill="none"/>
<polyline points="74.6,639.8 80.74,631 86.87,626.1 93.01,627.1 99.14,621.2 105.28,633 111.42,631 117.55,635.5 123.69,634 129.82,631 135.96,637.3 142.1,636.3 148.23,642.8 154.37,620.3 160.5,633.6 166.64,636.3 172.78,626.1 178.91,624.6 185.05,635 191.18,630.7 197.32,640.8 203.46,637.5 209.59,636 215.73,641.3 221.86,637 228,642.3 234.14,637 240.27,631.1 246.41,644.4 252.54,638.1 258.68,636.6 264.82,640.2 270.95,643.4 277.09,637.5 283.22,659.2 289.36,650.1 295.5,652.2 301.63,646.5 307.77,640.2 313.9,654.3 320.04,643.4" fill="none" stroke="#2a00ff" stroke-width="2.6" stroke-linejoin="round"/>
<path d="M74.6 639.8h0M80.74 631h0M86.87 626.1h0M93.01 627.1h0M99.14 621.2h0M105.28 633h0M111.42 631h0M117.55 635.5h0M123.69 634h0M129.82 631h0M135.96 637.3h0M142.1 636.3h0M148.23 642.8h0M154.37 620.3h0M160.5 633.6h0M166.64 636.3h0M172.78 626.1h0M178.91 624.6h0M185.05 635h0M191.18 630.7h0M197.32 640.8h0M203.46 637.5h0M209.59 636h0M215.73 641.3h0M221.86 637h0M228 642.3h0M234.14 637h0M240.27 631.1h0M246.41 644.4h0M252.54 638.1h0M258.68 636.6h0M264.82 640.2h0M270.95 643.4h0M277.09 637.5h0M283.22 659.2h0M289.36 650.1h0M295.5 652.2h0M301.63 646.5h0M307.77 640.2h0M313.9 654.3h0M320.04 643.4h0" stroke="#2a00ff" stroke-width="6.2" stroke-linecap="round" fill="none"/>
<circle cx="99.9" cy="487.5" r="10.8" fill="#1c1f7e"/>
<circle cx="99.9" cy="520.7" r="10.8" fill="#4a1839"/>
<text x="116.84" y="494.4" font-size="22.65" fill="#000" >Empty</text>
<text x="118.05" y="528" font-size="22.72" fill="#000" >Syd KD</text>
<text x="336.36" y="462.4" font-size="24.5" font-weight="bold" fill="#000" >E</text>
<line x1="414.2" y1="484" x2="414.2" y2="731.05" stroke="#000" stroke-width="2.1" />
<line x1="407.95" y1="681" x2="414.2" y2="681" stroke="#000" stroke-width="1.9" />
<line x1="407.95" y1="632" x2="414.2" y2="632" stroke="#000" stroke-width="1.9" />
<line x1="407.95" y1="583" x2="414.2" y2="583" stroke="#000" stroke-width="1.9" />
<line x1="407.95" y1="534" x2="414.2" y2="534" stroke="#000" stroke-width="1.9" />
<line x1="407.95" y1="485" x2="414.2" y2="485" stroke="#000" stroke-width="1.9" />
<line x1="410.35" y1="720.2" x2="414.2" y2="720.2" stroke="#000" stroke-width="1.8" />
<line x1="410.35" y1="710.4" x2="414.2" y2="710.4" stroke="#000" stroke-width="1.8" />
<line x1="410.35" y1="700.6" x2="414.2" y2="700.6" stroke="#000" stroke-width="1.8" />
<line x1="410.35" y1="690.8" x2="414.2" y2="690.8" stroke="#000" stroke-width="1.8" />
<line x1="410.35" y1="671.2" x2="414.2" y2="671.2" stroke="#000" stroke-width="1.8" />
<line x1="410.35" y1="661.4" x2="414.2" y2="661.4" stroke="#000" stroke-width="1.8" />
<line x1="410.35" y1="651.6" x2="414.2" y2="651.6" stroke="#000" stroke-width="1.8" />
<line x1="410.35" y1="641.8" x2="414.2" y2="641.8" stroke="#000" stroke-width="1.8" />
<line x1="410.35" y1="622.2" x2="414.2" y2="622.2" stroke="#000" stroke-width="1.8" />
<line x1="410.35" y1="612.4" x2="414.2" y2="612.4" stroke="#000" stroke-width="1.8" />
<line x1="410.35" y1="602.6" x2="414.2" y2="602.6" stroke="#000" stroke-width="1.8" />
<line x1="410.35" y1="592.8" x2="414.2" y2="592.8" stroke="#000" stroke-width="1.8" />
<line x1="410.35" y1="573.2" x2="414.2" y2="573.2" stroke="#000" stroke-width="1.8" />
<line x1="410.35" y1="563.4" x2="414.2" y2="563.4" stroke="#000" stroke-width="1.8" />
<line x1="410.35" y1="553.6" x2="414.2" y2="553.6" stroke="#000" stroke-width="1.8" />
<line x1="410.35" y1="543.8" x2="414.2" y2="543.8" stroke="#000" stroke-width="1.8" />
<line x1="410.35" y1="524.2" x2="414.2" y2="524.2" stroke="#000" stroke-width="1.8" />
<line x1="410.35" y1="514.4" x2="414.2" y2="514.4" stroke="#000" stroke-width="1.8" />
<line x1="410.35" y1="504.6" x2="414.2" y2="504.6" stroke="#000" stroke-width="1.8" />
<line x1="410.35" y1="494.8" x2="414.2" y2="494.8" stroke="#000" stroke-width="1.8" />
<line x1="407.3" y1="729.9" x2="660.4" y2="729.9" stroke="#000" stroke-width="2.2" />
<text x="393.32" y="736" font-size="19.5" fill="#000" >0</text>
<text x="382.53" y="687" font-size="19.5" fill="#000" >25</text>
<text x="382.48" y="638" font-size="19.5" fill="#000" >50</text>
<text x="382.53" y="585.3" font-size="19.5" fill="#000" >75</text>
<text x="371.63" y="537.2" font-size="19.5" fill="#000" >100</text>
<text x="371.69" y="489.3" font-size="19.5" fill="#000" >125</text>
<text transform="translate(368.2,730) rotate(-90)" font-size="22.6" fill="#000">% VAMP4-pH responses</text>
<rect x="435" y="534" width="81.6" height="194.7" fill="#fff" stroke="#400040" stroke-width="2.5"/>
<rect x="433.75" y="606.52" width="84.1" height="123.48" fill="#400040" />
<line x1="475.8" y1="514.4" x2="475.8" y2="534" stroke="#400040" stroke-width="2.2" />
<line x1="455.6" y1="514.4" x2="496" y2="514.4" stroke="#400040" stroke-width="2.4" />
<line x1="475.8" y1="587.31" x2="475.8" y2="606.52" stroke="#400040" stroke-width="2.2" />
<line x1="455.6" y1="587.31" x2="496" y2="587.31" stroke="#400040" stroke-width="2.4" />
<text x="463.95" y="556" font-size="20.19" fill="#000" >Up</text>
<text x="459.93" y="723.7" font-size="20.34" fill="#e8dcef" >Dn</text>
<line x1="475.8" y1="729.9" x2="475.8" y2="737" stroke="#000" stroke-width="1.9" />
<rect x="557.9" y="534" width="81.6" height="194.7" fill="#fff" stroke="#400040" stroke-width="2.5"/>
<rect x="556.65" y="707.07" width="84.1" height="22.93" fill="#400040" />
<line x1="598.7" y1="522.24" x2="598.7" y2="534" stroke="#400040" stroke-width="2.2" />
<line x1="578.5" y1="522.24" x2="618.9" y2="522.24" stroke="#400040" stroke-width="2.4" />
<line x1="598.7" y1="696.09" x2="598.7" y2="707.07" stroke="#400040" stroke-width="2.2" />
<line x1="578.5" y1="696.09" x2="618.9" y2="696.09" stroke="#400040" stroke-width="2.4" />
<text x="586.85" y="556" font-size="20.19" fill="#000" >Up</text>
<text x="582.83" y="723.7" font-size="20.34" fill="#e8dcef" >Dn</text>
<line x1="598.7" y1="729.9" x2="598.7" y2="737" stroke="#000" stroke-width="1.9" />
<line x1="407.3" y1="729.9" x2="660.4" y2="729.9" stroke="#000" stroke-width="2.2" />
<text x="433.44" y="756" font-size="26.36" fill="#000" >Empty</text>
<text x="553.3" y="754.8" font-size="26.18" fill="#000" >Syd KD</text>
<text x="594.81" y="522.6" font-size="25" fill="#000" textLength="9.37" lengthAdjust="spacingAndGlyphs">*</text>
<text x="594.81" y="697.2" font-size="25" fill="#000" textLength="9.37" lengthAdjust="spacingAndGlyphs">*</text>
<text x="1.96" y="806.4" font-size="24.5" font-weight="bold" fill="#000" >F</text>
<line x1="74.9" y1="801.3" x2="74.9" y2="1040.4" stroke="#000" stroke-width="2.2" />
<line x1="68.6" y1="1039.3" x2="74.9" y2="1039.3" stroke="#000" stroke-width="1.9" />
<line x1="68.6" y1="991.9" x2="74.9" y2="991.9" stroke="#000" stroke-width="1.9" />
<line x1="68.6" y1="944.5" x2="74.9" y2="944.5" stroke="#000" stroke-width="1.9" />
<line x1="68.6" y1="897.1" x2="74.9" y2="897.1" stroke="#000" stroke-width="1.9" />
<line x1="68.6" y1="849.7" x2="74.9" y2="849.7" stroke="#000" stroke-width="1.9" />
<line x1="68.6" y1="802.3" x2="74.9" y2="802.3" stroke="#000" stroke-width="1.9" />
<line x1="71" y1="1029.82" x2="74.9" y2="1029.82" stroke="#000" stroke-width="1.8" />
<line x1="71" y1="1020.34" x2="74.9" y2="1020.34" stroke="#000" stroke-width="1.8" />
<line x1="71" y1="1010.86" x2="74.9" y2="1010.86" stroke="#000" stroke-width="1.8" />
<line x1="71" y1="1001.38" x2="74.9" y2="1001.38" stroke="#000" stroke-width="1.8" />
<line x1="71" y1="982.42" x2="74.9" y2="982.42" stroke="#000" stroke-width="1.8" />
<line x1="71" y1="972.94" x2="74.9" y2="972.94" stroke="#000" stroke-width="1.8" />
<line x1="71" y1="963.46" x2="74.9" y2="963.46" stroke="#000" stroke-width="1.8" />
<line x1="71" y1="953.98" x2="74.9" y2="953.98" stroke="#000" stroke-width="1.8" />
<line x1="71" y1="935.02" x2="74.9" y2="935.02" stroke="#000" stroke-width="1.8" />
<line x1="71" y1="925.54" x2="74.9" y2="925.54" stroke="#000" stroke-width="1.8" />
<line x1="71" y1="916.06" x2="74.9" y2="916.06" stroke="#000" stroke-width="1.8" />
<line x1="71" y1="906.58" x2="74.9" y2="906.58" stroke="#000" stroke-width="1.8" />
<line x1="71" y1="887.62" x2="74.9" y2="887.62" stroke="#000" stroke-width="1.8" />
<line x1="71" y1="878.14" x2="74.9" y2="878.14" stroke="#000" stroke-width="1.8" />
<line x1="71" y1="868.66" x2="74.9" y2="868.66" stroke="#000" stroke-width="1.8" />
<line x1="71" y1="859.18" x2="74.9" y2="859.18" stroke="#000" stroke-width="1.8" />
<line x1="71" y1="840.22" x2="74.9" y2="840.22" stroke="#000" stroke-width="1.8" />
<line x1="71" y1="830.74" x2="74.9" y2="830.74" stroke="#000" stroke-width="1.8" />
<line x1="71" y1="821.26" x2="74.9" y2="821.26" stroke="#000" stroke-width="1.8" />
<line x1="71" y1="811.78" x2="74.9" y2="811.78" stroke="#000" stroke-width="1.8" />
<line x1="73.75" y1="1039.2" x2="320.2" y2="1039.2" stroke="#000" stroke-width="2.3" />
<line x1="74.6" y1="1039.2" x2="74.6" y2="1046.55" stroke="#000" stroke-width="1.9" />
<line x1="151.35" y1="1039.2" x2="151.35" y2="1046.55" stroke="#000" stroke-width="1.9" />
<line x1="228.1" y1="1039.2" x2="228.1" y2="1046.55" stroke="#000" stroke-width="1.9" />
<line x1="304.85" y1="1039.2" x2="304.85" y2="1046.55" stroke="#000" stroke-width="1.9" />
<line x1="89.95" y1="1039.2" x2="89.95" y2="1043.75" stroke="#000" stroke-width="1.8" />
<line x1="105.3" y1="1039.2" x2="105.3" y2="1043.75" stroke="#000" stroke-width="1.8" />
<line x1="120.65" y1="1039.2" x2="120.65" y2="1043.75" stroke="#000" stroke-width="1.8" />
<line x1="136" y1="1039.2" x2="136" y2="1043.75" stroke="#000" stroke-width="1.8" />
<line x1="166.7" y1="1039.2" x2="166.7" y2="1043.75" stroke="#000" stroke-width="1.8" />
<line x1="182.05" y1="1039.2" x2="182.05" y2="1043.75" stroke="#000" stroke-width="1.8" />
<line x1="197.4" y1="1039.2" x2="197.4" y2="1043.75" stroke="#000" stroke-width="1.8" />
<line x1="212.75" y1="1039.2" x2="212.75" y2="1043.75" stroke="#000" stroke-width="1.8" />
<line x1="243.45" y1="1039.2" x2="243.45" y2="1043.75" stroke="#000" stroke-width="1.8" />
<line x1="258.8" y1="1039.2" x2="258.8" y2="1043.75" stroke="#000" stroke-width="1.8" />
<line x1="274.15" y1="1039.2" x2="274.15" y2="1043.75" stroke="#000" stroke-width="1.8" />
<line x1="289.5" y1="1039.2" x2="289.5" y2="1043.75" stroke="#000" stroke-width="1.8" />
<line x1="320.2" y1="1039.2" x2="320.2" y2="1043.75" stroke="#000" stroke-width="1.8" />
<text x="41.66" y="810.8" font-size="19.5" fill="#000" >1.0</text>
<text x="41.73" y="856.7" font-size="19.5" fill="#000" >0.8</text>
<text x="41.75" y="904.1" font-size="19.5" fill="#000" >0.6</text>
<text x="41.46" y="951.5" font-size="19.5" fill="#000" >0.4</text>
<text x="41.87" y="998.9" font-size="19.5" fill="#000" >0.2</text>
<text x="57.92" y="1046.3" font-size="19.5" fill="#000" >0</text>
<text x="69.18" y="1064.8" font-size="19.5" fill="#000" >0</text>
<text x="140.5" y="1064.8" font-size="19.5" fill="#000" >50</text>
<text x="211.48" y="1064.8" font-size="19.5" fill="#000" >100</text>
<text x="288.23" y="1064.8" font-size="19.5" fill="#000" >150</text>
<text x="152.8" y="1091.3" font-size="22.74" fill="#000" >Time (s)</text>
<text transform="translate(23.6,978.5) rotate(-90)" font-size="22.8" fill="#000">Syp-pH<tspan dx="1"> ΔF/F</tspan><tspan font-size="16" dy="6">0</tspan></text>
<rect x="105" y="792" width="14" height="3.4" fill="#000" />
<path d="M74.6 1038.17V1045.17M71.5 1038.17h6.2M71.5 1045.17h6.2M80.74 1031.06V1038.06M77.64 1031.06h6.2M77.64 1038.06h6.2M86.88 1028.69V1035.69M83.78 1028.69h6.2M83.78 1035.69h6.2M93.02 1031.53V1038.53M89.92 1031.53h6.2M89.92 1038.53h6.2M99.16 1032.96V1039.96M96.06 1032.96h6.2M96.06 1039.96h6.2M105.3 954.83V976.83M102.2 954.83h6.2M102.2 976.83h6.2M111.44 867.14V889.14M108.34 867.14h6.2M108.34 889.14h6.2M117.58 802.67V806.67M114.48 802.67h6.2M114.48 806.67h6.2M123.72 810.82V822.22M120.62 810.82h6.2M120.62 822.22h6.2M129.86 817.73V829.53M126.76 817.73h6.2M126.76 829.53h6.2M136 825.59V837.79M132.9 825.59h6.2M132.9 837.79h6.2M142.14 837.95V850.55M139.04 837.95h6.2M139.04 850.55h6.2M148.28 850.31V863.31M145.18 850.31h6.2M145.18 863.31h6.2M154.42 860.06V873.46M151.32 860.06h6.2M151.32 873.46h6.2M160.56 871.24V885.04M157.46 871.24h6.2M157.46 885.04h6.2M166.7 882.89V897.09M163.6 882.89h6.2M163.6 897.09h6.2M172.84 892.17V906.77M169.74 892.17h6.2M169.74 906.77h6.2M178.98 901.45V916.45M175.88 901.45h6.2M175.88 916.45h6.2M185.12 908.36V923.76M182.02 908.36h6.2M182.02 923.76h6.2M191.26 915.74V931.54M188.16 915.74h6.2M188.16 931.54h6.2M197.4 923.36V939.56M194.3 923.36h6.2M194.3 939.56h6.2M203.54 929.09V945.69M200.44 929.09h6.2M200.44 945.69h6.2M209.68 934.1V951.1M206.58 934.1h6.2M206.58 951.1h6.2M215.82 938.17V955.57M212.72 938.17h6.2M212.72 955.57h6.2M221.96 943.18V960.98M218.86 943.18h6.2M218.86 960.98h6.2M228.1 947.96V966.16M225 947.96h6.2M225 966.16h6.2M234.24 953.45V972.05M231.14 953.45h6.2M231.14 972.05h6.2M240.38 958.7V977.7M237.28 958.7h6.2M237.28 977.7h6.2M246.52 962.73V981.73M243.42 962.73h6.2M243.42 981.73h6.2M252.66 965.81V984.81M249.56 965.81h6.2M249.56 984.81h6.2M258.8 969.13V988.13M255.7 969.13h6.2M255.7 988.13h6.2M264.94 971.73V990.73M261.84 971.73h6.2M261.84 990.73h6.2M271.08 974.34V993.34M267.98 974.34h6.2M267.98 993.34h6.2M277.22 976.24V995.24M274.12 976.24h6.2M274.12 995.24h6.2M283.36 977.9V996.9M280.26 977.9h6.2M280.26 996.9h6.2M289.5 979.79V998.79M286.4 979.79h6.2M286.4 998.79h6.2M295.64 981.45V1000.45M292.54 981.45h6.2M292.54 1000.45h6.2M301.78 983.35V1002.35M298.68 983.35h6.2M298.68 1002.35h6.2M307.92 985.72V1004.72M304.82 985.72h6.2M304.82 1004.72h6.2M314.06 987.85V1006.85M310.96 987.85h6.2M310.96 1006.85h6.2M320.2 990.46V1009.46M317.1 990.46h6.2M317.1 1009.46h6.2" stroke="#0a0a0a" stroke-width="1.7" fill="none"/>
<path d="M74.6 1038.34V1044.99M71.5 1038.34h6.2M71.5 1044.99h6.2M80.74 1035.97V1042.62M77.64 1035.97h6.2M77.64 1042.62h6.2M86.88 1038.34V1044.99M83.78 1038.34h6.2M83.78 1044.99h6.2M93.02 1035.97V1042.62M89.92 1035.97h6.2M89.92 1042.62h6.2M99.16 1034.79V1041.44M96.06 1034.79h6.2M96.06 1041.44h6.2M105.3 953.01V973.91M102.2 953.01h6.2M102.2 973.91h6.2M111.44 857.02V877.92M108.34 857.02h6.2M108.34 877.92h6.2M117.58 802.77V806.57M114.48 802.77h6.2M114.48 806.57h6.2M123.72 817.98V828.81M120.62 817.98h6.2M120.62 828.81h6.2M129.86 832.24V843.45M126.76 832.24h6.2M126.76 843.45h6.2M136 842.72V854.31M132.9 842.72h6.2M132.9 854.31h6.2M142.14 853.43V865.4M139.04 853.43h6.2M139.04 865.4h6.2M148.28 865.8V878.15M145.18 865.8h6.2M145.18 878.15h6.2M154.42 874.62V887.35M151.32 874.62h6.2M151.32 887.35h6.2M160.56 882.49V895.6M157.46 882.49h6.2M157.46 895.6h6.2M166.7 891.3V904.79M163.6 891.3h6.2M163.6 904.79h6.2M172.84 898.46V912.33M169.74 898.46h6.2M169.74 912.33h6.2M178.98 907.28V921.53M175.88 907.28h6.2M175.88 921.53h6.2M185.12 913.48V928.12M182.02 913.48h6.2M182.02 928.12h6.2M191.26 919.46V934.47M188.16 919.46h6.2M188.16 934.47h6.2M197.4 926.38V941.77M194.3 926.38h6.2M194.3 941.77h6.2M203.54 934.25V950.01M200.44 934.25h6.2M200.44 950.01h6.2M209.68 939.98V956.13M206.58 939.98h6.2M206.58 956.13h6.2M215.82 945.24V961.77M212.72 945.24h6.2M212.72 961.77h6.2M221.96 951.45V968.36M218.86 951.45h6.2M218.86 968.36h6.2M228.1 956V973.29M225 956h6.2M225 973.29h6.2M234.24 960.55V978.22M231.14 960.55h6.2M231.14 978.22h6.2M240.38 964.15V982.2M237.28 964.15h6.2M237.28 982.2h6.2M246.52 967.71V985.76M243.42 967.71h6.2M243.42 985.76h6.2M252.66 971.02V989.07M249.56 971.02h6.2M249.56 989.07h6.2M258.8 974.11V992.16M255.7 974.11h6.2M255.7 992.16h6.2M264.94 976.24V994.29M261.84 976.24h6.2M261.84 994.29h6.2M271.08 978.13V996.18M267.98 978.13h6.2M267.98 996.18h6.2M277.22 980.03V998.08M274.12 980.03h6.2M274.12 998.08h6.2M283.36 981.93V999.98M280.26 981.93h6.2M280.26 999.98h6.2M289.5 983.59V1001.64M286.4 983.59h6.2M286.4 1001.64h6.2M295.64 985.48V1003.53M292.54 985.48h6.2M292.54 1003.53h6.2M301.78 987.38V1005.43M298.68 987.38h6.2M298.68 1005.43h6.2M307.92 989.04V1007.09M304.82 989.04h6.2M304.82 1007.09h6.2M314.06 991.41V1009.46M310.96 991.41h6.2M310.96 1009.46h6.2M320.2 995.91V1013.96M317.1 995.91h6.2M317.1 1013.96h6.2" stroke="#0a0a0a" stroke-width="1.7" fill="none"/>
<polyline points="74.6,1041.67 80.74,1034.56 86.88,1032.19 93.02,1035.03 99.16,1036.46 105.3,965.83 111.44,878.14 117.58,804.67 123.72,816.52 129.86,823.63 136,831.69 142.14,844.25 148.28,856.81 154.42,866.76 160.56,878.14 166.7,889.99 172.84,899.47 178.98,908.95 185.12,916.06 191.26,923.64 197.4,931.46 203.54,937.39 209.68,942.6 215.82,946.87 221.96,952.08 228.1,957.06 234.24,962.75 240.38,968.2 246.52,972.23 252.66,975.31 258.8,978.63 264.94,981.23 271.08,983.84 277.22,985.74 283.36,987.4 289.5,989.29 295.64,990.95 301.78,992.85 307.92,995.22 314.06,997.35 320.2,999.96" fill="none" stroke="#5a0870" stroke-width="2.4" stroke-linejoin="round"/>
<path d="M74.6 1041.67h0M80.74 1034.56h0M86.88 1032.19h0M93.02 1035.03h0M99.16 1036.46h0M105.3 965.83h0M111.44 878.14h0M117.58 804.67h0M123.72 816.52h0M129.86 823.63h0M136 831.69h0M142.14 844.25h0M148.28 856.81h0M154.42 866.76h0M160.56 878.14h0M166.7 889.99h0M172.84 899.47h0M178.98 908.95h0M185.12 916.06h0M191.26 923.64h0M197.4 931.46h0M203.54 937.39h0M209.68 942.6h0M215.82 946.87h0M221.96 952.08h0M228.1 957.06h0M234.24 962.75h0M240.38 968.2h0M246.52 972.23h0M252.66 975.31h0M258.8 978.63h0M264.94 981.23h0M271.08 983.84h0M277.22 985.74h0M283.36 987.4h0M289.5 989.29h0M295.64 990.95h0M301.78 992.85h0M307.92 995.22h0M314.06 997.35h0M320.2 999.96h0" stroke="#5a0870" stroke-width="5.6" stroke-linecap="round" fill="none"/>
<polyline points="74.6,1041.67 80.74,1039.3 86.88,1041.67 93.02,1039.3 99.16,1038.12 105.3,963.46 111.44,867.47 117.58,804.67 123.72,823.39 129.86,837.85 136,848.51 142.14,859.42 148.28,871.98 154.42,880.98 160.56,889.04 166.7,898.05 172.84,905.39 178.98,914.4 185.12,920.8 191.26,926.96 197.4,934.07 203.54,942.13 209.68,948.05 215.82,953.51 221.96,959.9 228.1,964.64 234.24,969.38 240.38,973.18 246.52,976.73 252.66,980.05 258.8,983.13 264.94,985.26 271.08,987.16 277.22,989.06 283.36,990.95 289.5,992.61 295.64,994.51 301.78,996.4 307.92,998.06 314.06,1000.43 320.2,1004.93" fill="none" stroke="#2008c8" stroke-width="2.6" stroke-linejoin="round"/>
<path d="M74.6 1041.67h0M80.74 1039.3h0M86.88 1041.67h0M93.02 1039.3h0M99.16 1038.12h0M105.3 963.46h0M111.44 867.47h0M117.58 804.67h0M123.72 823.39h0M129.86 837.85h0M136 848.51h0M142.14 859.42h0M148.28 871.98h0M154.42 880.98h0M160.56 889.04h0M166.7 898.05h0M172.84 905.39h0M178.98 914.4h0M185.12 920.8h0M191.26 926.96h0M197.4 934.07h0M203.54 942.13h0M209.68 948.05h0M215.82 953.51h0M221.96 959.9h0M228.1 964.64h0M234.24 969.38h0M240.38 973.18h0M246.52 976.73h0M252.66 980.05h0M258.8 983.13h0M264.94 985.26h0M271.08 987.16h0M277.22 989.06h0M283.36 990.95h0M289.5 992.61h0M295.64 994.51h0M301.78 996.4h0M307.92 998.06h0M314.06 1000.43h0M320.2 1004.93h0" stroke="#2008c8" stroke-width="6.2" stroke-linecap="round" fill="none"/>
<circle cx="206.5" cy="806.9" r="10.8" fill="#1c1f7e"/>
<circle cx="206.5" cy="839.4" r="10.8" fill="#4a1839"/>
<text x="223.63" y="814.1" font-size="22.8" fill="#000" >Empty</text>
<text x="224.46" y="848.6" font-size="22.69" fill="#000" >Syd KD</text>
<text x="337.2" y="806.8" font-size="24.5" font-weight="bold" fill="#000" >G</text>
<line x1="412.6" y1="803.1" x2="412.6" y2="1041.05" stroke="#000" stroke-width="2.1" />
<line x1="406.35" y1="961.37" x2="412.6" y2="961.37" stroke="#000" stroke-width="1.9" />
<line x1="406.35" y1="882.74" x2="412.6" y2="882.74" stroke="#000" stroke-width="1.9" />
<line x1="406.35" y1="804.1" x2="412.6" y2="804.1" stroke="#000" stroke-width="1.9" />
<line x1="408.75" y1="1024.27" x2="412.6" y2="1024.27" stroke="#000" stroke-width="1.8" />
<line x1="408.75" y1="1008.55" x2="412.6" y2="1008.55" stroke="#000" stroke-width="1.8" />
<line x1="408.75" y1="992.82" x2="412.6" y2="992.82" stroke="#000" stroke-width="1.8" />
<line x1="408.75" y1="977.09" x2="412.6" y2="977.09" stroke="#000" stroke-width="1.8" />
<line x1="408.75" y1="945.64" x2="412.6" y2="945.64" stroke="#000" stroke-width="1.8" />
<line x1="408.75" y1="929.91" x2="412.6" y2="929.91" stroke="#000" stroke-width="1.8" />
<line x1="408.75" y1="914.19" x2="412.6" y2="914.19" stroke="#000" stroke-width="1.8" />
<line x1="408.75" y1="898.46" x2="412.6" y2="898.46" stroke="#000" stroke-width="1.8" />
<line x1="408.75" y1="867.01" x2="412.6" y2="867.01" stroke="#000" stroke-width="1.8" />
<line x1="408.75" y1="851.28" x2="412.6" y2="851.28" stroke="#000" stroke-width="1.8" />
<line x1="408.75" y1="835.56" x2="412.6" y2="835.56" stroke="#000" stroke-width="1.8" />
<line x1="408.75" y1="819.83" x2="412.6" y2="819.83" stroke="#000" stroke-width="1.8" />
<line x1="406.15" y1="1040" x2="650.2" y2="1040" stroke="#000" stroke-width="2.1" />
<text x="391.72" y="1047" font-size="19.5" fill="#000" >0</text>
<text x="380.94" y="968.37" font-size="19.5" fill="#000" >25</text>
<text x="380.88" y="889.74" font-size="19.5" fill="#000" >50</text>
<text x="380.94" y="809.7" font-size="19.5" fill="#000" >75</text>
<rect x="430.4" y="848.14" width="82.3" height="191.86" fill="#1800a0" />
<rect x="548.3" y="847.19" width="83.4" height="192.81" fill="#400040" />
<line x1="471.5" y1="829.89" x2="471.5" y2="848.14" stroke="#000" stroke-width="2.2" />
<line x1="452" y1="829.89" x2="491" y2="829.89" stroke="#000" stroke-width="2.4" />
<line x1="471.5" y1="1040" x2="471.5" y2="1047" stroke="#000" stroke-width="1.9" />
<line x1="590.2" y1="826.75" x2="590.2" y2="847.19" stroke="#000" stroke-width="2.2" />
<line x1="570.7" y1="826.75" x2="609.7" y2="826.75" stroke="#000" stroke-width="2.4" />
<line x1="590.2" y1="1040" x2="590.2" y2="1047" stroke="#000" stroke-width="1.9" />
<text x="435.37" y="1068.2" font-size="22.33" fill="#000" >Empty</text>
<text x="553.55" y="1070.1" font-size="22.91" fill="#000" >Syd KD</text>
<text x="578.49" y="819.4" font-size="22.85" fill="#000" >ns</text>
<text transform="translate(375,936.6) rotate(-90)" font-size="23.5" fill="#000"><tspan font-size="20">τ</tspan><tspan dx="1.6"> (s)</tspan></text>
</svg></body></html>
